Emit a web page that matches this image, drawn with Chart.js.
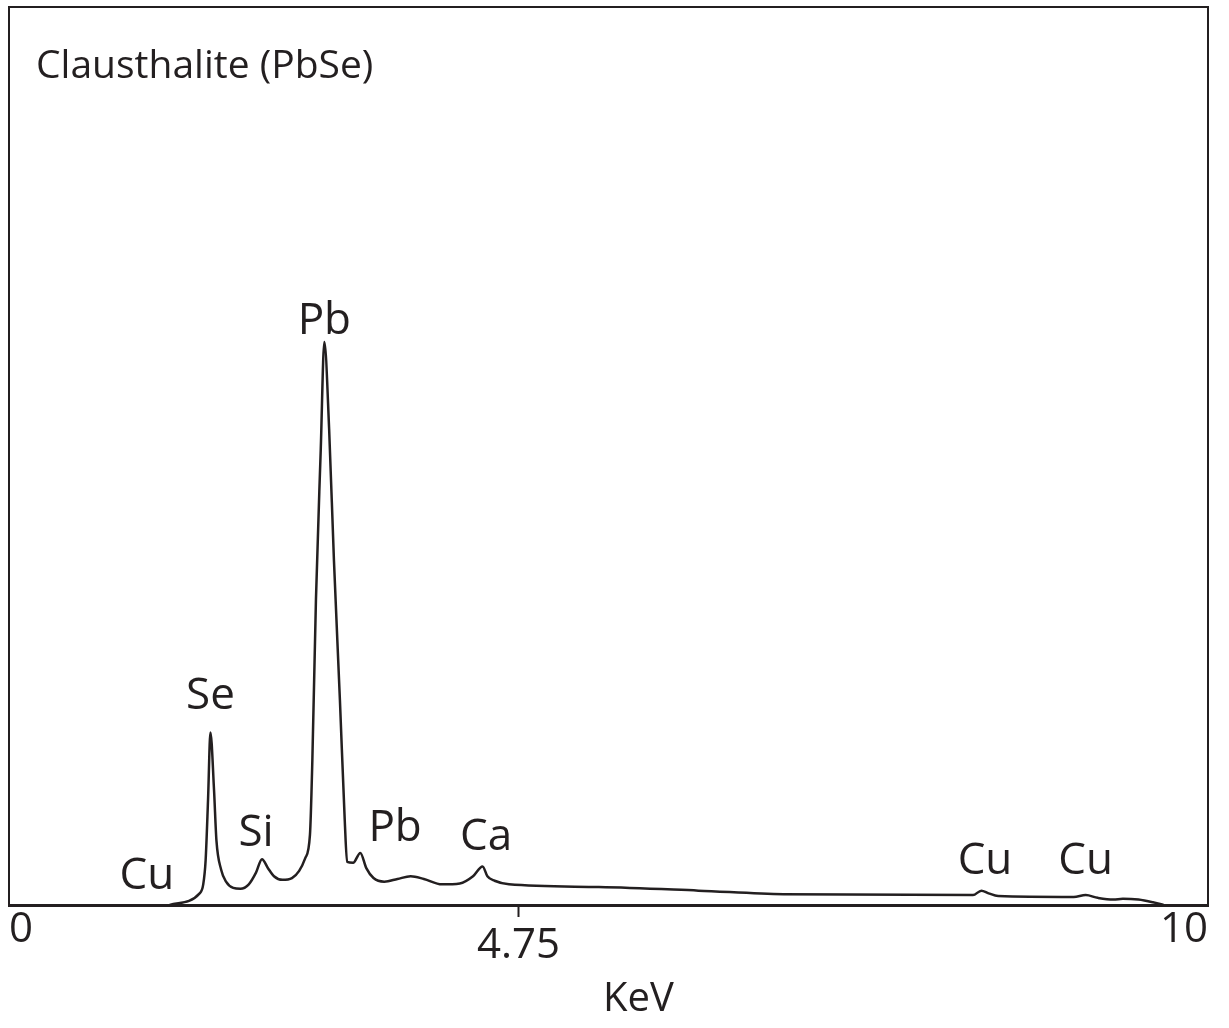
<!DOCTYPE html>
<html>
<head>
<meta charset="utf-8">
<script src="https://cdn.jsdelivr.net/npm/chart.js@4.4.1/dist/chart.umd.min.js"></script>
<style>
  body { margin: 0; background: #fff; }
  #wrap { width: 1229px; height: 1028px; }
</style>
</head>
<body>
<div id="wrap"><canvas id="myChart"></canvas></div>
<script>
// EDS trace: x in the figure's KeV units, y in % of frame height
var energy = [1.34, 1.59, 1.62, 1.64, 1.66, 1.68, 1.71, 1.73, 1.77, 1.81, 1.87, 1.93, 2.00, 2.06, 2.11,
              2.16, 2.21, 2.28, 2.36, 2.42, 2.47, 2.51, 2.53, 2.56, 2.60, 2.63, 2.67, 2.71, 2.76, 2.80,
              2.82, 2.87, 2.93, 2.98, 3.04, 3.13, 3.24, 3.35, 3.46, 3.61, 3.76, 3.87, 3.95, 3.99, 4.05,
              4.17, 4.92, 5.75, 6.46, 8.04, 8.11, 8.17, 8.25, 8.88, 8.98, 9.08, 9.21, 9.29, 9.42, 9.54, 9.63];
var counts = [0, 1.3, 2.3, 5.0, 11.7, 19.2, 12.8, 7.2, 3.9, 2.6, 1.9, 1.8, 2.3, 3.6, 5.1,
              4.1, 3.2, 2.8, 3.0, 3.8, 5.2, 7.8, 16.1, 34.0, 50.7, 62.7, 53.0, 38.4, 22.8, 9.5,
              4.8, 4.7, 5.8, 4.1, 3.0, 2.6, 2.9, 3.2, 2.9, 2.3, 2.4, 3.2, 4.3, 3.2, 2.7,
              2.3, 2.0, 1.6, 1.2, 1.1, 1.6, 1.3, 1.0, 0.9, 1.1, 0.8, 0.6, 0.7, 0.6, 0.3, 0];

var tickValues = [0, 4.25, 10];
var tickLabels = ['0', '4.75', '10'];

var peakNames = ['Cu', 'Se', 'Si', 'Pb', 'Pb', 'Ca', 'Cu', 'Cu'];
var peakX = [1.15, 1.68, 2.06, 2.63, 3.22, 3.98, 8.14, 8.98];
var peakY = [3.2, 23.2, 8.0, 65.0, 8.5, 7.5, 4.9, 4.9];

var sampleName = 'Clausthalite (PbSe)';
var axisName = 'KeV';

var ink = '#231f20';
var face = "'Open Sans', sans-serif";
Chart.defaults.font.family = face;

// frame, peak names, sample name and axis name
var labelPlugin = {
  id: 'labels',
  afterDatasetsDraw: function(chart) {
    var ctx = chart.ctx, xs = chart.scales.x, ys = chart.scales.y, a = chart.chartArea;
    ctx.save();
    ctx.strokeStyle = ink;
    ctx.lineWidth = 2;
    ctx.strokeRect(a.left, a.top, a.right - a.left, a.bottom - a.top);
    ctx.fillStyle = ink;
    ctx.textAlign = 'center';
    ctx.textBaseline = 'middle';
    ctx.font = '44px ' + face;
    for (var i = 0; i < peakNames.length; i++) {
      ctx.fillText(peakNames[i], xs.getPixelForValue(peakX[i]), ys.getPixelForValue(peakY[i]));
    }
    ctx.textAlign = 'left';
    ctx.font = '39px ' + face;
    ctx.fillText(sampleName, xs.getPixelForValue(0.225), ys.getPixelForValue(93.3));
    ctx.textAlign = 'center';
    ctx.font = '40px ' + face;
    ctx.fillText(axisName, xs.getPixelForValue(5.25), a.bottom + 95);
    ctx.restore();
  }
};

var ctx = document.getElementById('myChart').getContext('2d');

var myChart = new Chart(ctx, {
  type: 'line',
  data: {
    datasets: [{
      data: energy.map(function(e, i) { return { x: e, y: counts[i] }; }),
      borderColor: ink,
      borderWidth: 2.5,
      pointRadius: 0,
      fill: false,
      cubicInterpolationMode: 'monotone'
    }]
  },
  options: {
    responsive: true,
    maintainAspectRatio: false,
    animation: false,
    devicePixelRatio: 1,
    layout: { padding: { top: 7, left: 9, right: 21, bottom: 0 } },
    plugins: { legend: { display: false }, tooltip: { enabled: false } },
    scales: {
      x: {
        type: 'linear',
        min: 0,
        max: 10,
        afterBuildTicks: function(s) { s.ticks = tickValues.map(function(v) { return { value: v }; }); },
        afterFit: function(s) { s.height = 123; },
        border: { display: true, color: ink, width: 3 },
        grid: {
          drawOnChartArea: false,
          drawTicks: true,
          tickLength: 12,
          tickWidth: 2,
          tickColor: function(c) { return c.index === 1 ? ink : 'rgba(0,0,0,0)'; }
        },
        ticks: {
          align: 'inner',
          padding: 0,
          maxRotation: 0,
          color: ink,
          font: function(c) { return { size: 42, lineHeight: c.index === 1 ? 1.38 : 0.62 }; },
          callback: function(v, i) { return tickLabels[i]; }
        }
      },
      y: {
        display: false,
        min: 0,
        max: 100
      }
    }
  },
  plugins: [labelPlugin]
});
</script>
</body>
</html>
